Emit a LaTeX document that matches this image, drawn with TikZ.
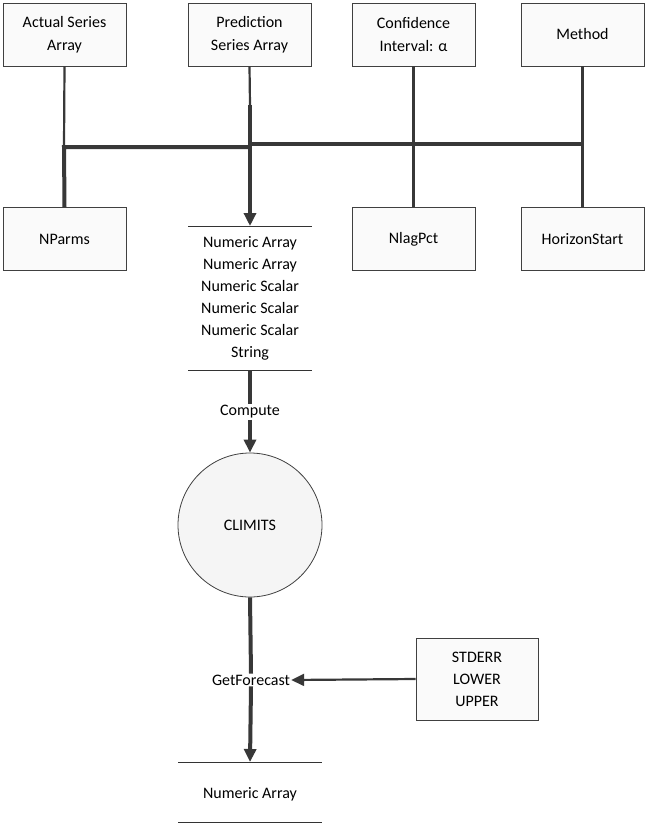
\documentclass[tikz,border=0pt]{standalone}
\usepackage{fontspec}
\setmainfont{Carlito}
\usetikzlibrary{arrows.meta}
\begin{document}
\begin{tikzpicture}[x=1pt,y=-1pt,
  box/.style={draw=black!75,fill=black!2,line width=0.8pt,minimum width=123pt,minimum height=63pt,align=center,font=\fontsize{16}{23}\selectfont},
  thin/.style={draw=black!78,line width=2.2pt},
  thick/.style={draw=black!78,line width=4pt},
  lbl/.style={font=\fontsize{16}{20}\selectfont,fill=white,inner sep=1pt},
  arr/.style={-{Triangle[length=13pt,width=12pt]}}]
\useasboundingbox (0,0) rectangle (649,827);
\node[box] (a) at (64.5,34.5) {Actual Series\\Array};
\node[box] (p) at (249.5,34.5) {Prediction\\Series Array};
\node[box] (c) at (413.5,34.5) {Confidence\\Interval: α};
\node[box] (m) at (582.5,34.5) {Method};
\node[box] (n) at (64.5,239) {NParms};
\node[box] (l) at (413.5,239) {NlagPct};
\node[box] (h) at (582.5,239) {HorizonStart};
\coordinate (b1) at (64,147);
\coordinate (b2) at (250,147);
\coordinate (b3) at (250,144);
\coordinate (b4) at (583,144);
\coordinate (pk) at (250,105);
\coordinate (s1) at (188,226); \coordinate (s2) at (312,226);
\coordinate (s3) at (188,370); \coordinate (s4) at (312,370);
\draw[black!80,line width=0.8pt] (s1) -- (s2) (s3) -- (s4);
\node[font=\fontsize{16}{22}\selectfont,align=center] (st) at (250,298) {Numeric Array\\Numeric Array\\Numeric Scalar\\Numeric Scalar\\Numeric Scalar\\String};
\draw[thin] (a.south) -- (b1);
\draw[thick] (n.north) -- (b1) -- (b2);
\draw[thin] (p.south) -- (pk);
\draw[thick] (b3) -- (b4);
\draw[thin] (c.south) -- (l.north);
\draw[thin] (m.south) -- (h.north);
\draw[thick,arr] (pk) -- (250,226);
\node[lbl] (cmp) at (250,412) {Compute};
\node[circle,draw=black!75,line width=0.8pt,fill=black!4,minimum size=144pt,font=\fontsize{16}{20}\selectfont] (cl) at (250,525) {CLIMITS};
\draw[thick] (250,370) -- (cmp.north);
\draw[thick,arr] (cmp.south) -- (cl.north);
\node[lbl] (gf) at (251,680) {GetForecast};
\node[box,minimum width=122pt,minimum height=82pt,font=\fontsize{16}{22}\selectfont] (se) at (477,679) {STDERR\\LOWER\\UPPER};
\draw[thick] (cl.south) -- (gf.north);
\draw[thin,arr] (se.west) -- (gf.east);
\coordinate (t1) at (178,762); \coordinate (t2) at (322,762);
\coordinate (t3) at (178,822); \coordinate (t4) at (322,822);
\draw[black!80,line width=0.8pt] (t1) -- (t2) (t3) -- (t4);
\node[font=\fontsize{16}{20}\selectfont] (na) at (250,794) {Numeric Array};
\draw[thick,arr] (gf.south) -- (250,762);
\end{tikzpicture}
\end{document}
